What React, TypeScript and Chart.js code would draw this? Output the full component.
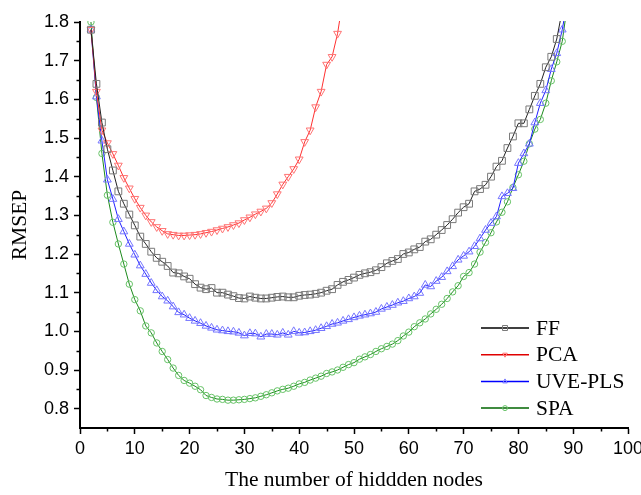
import React, { useEffect, useRef } from 'react';
import { Chart, registerables } from 'chart.js';

Chart.register(...registerables);

// x positions: number of hidden nodes
const nodes = [2, 3, 4, 5, 6, 7, 8, 9, 10, 11, 12, 13, 14, 15, 16, 17, 18, 19, 20, 21, 22, 23, 24, 25, 26, 27, 28, 29, 30, 31, 32, 33, 34, 35, 36, 37, 38, 39, 40, 41, 42, 43, 44, 45, 46, 47, 48, 49, 50, 51, 52, 53, 54, 55, 56, 57, 58, 59, 60, 61, 62, 63, 64, 65, 66, 67, 68, 69, 70, 71, 72, 73, 74, 75, 76, 77, 78, 79, 80, 81, 82, 83, 84, 85, 86, 87, 88, 89];

const ffValues = [1.78, 1.64, 1.54, 1.471, 1.416, 1.362, 1.33, 1.302, 1.274, 1.245, 1.226, 1.206, 1.19, 1.18, 1.169, 1.152, 1.15, 1.142, 1.136, 1.122, 1.113, 1.109, 1.112, 1.10, 1.10, 1.095, 1.091, 1.086, 1.085, 1.09, 1.087, 1.085, 1.085, 1.087, 1.089, 1.09, 1.088, 1.088, 1.092, 1.094, 1.095, 1.097, 1.10, 1.105, 1.109, 1.12, 1.128, 1.133, 1.139, 1.146, 1.15, 1.153, 1.158, 1.166, 1.176, 1.182, 1.187, 1.20, 1.204, 1.212, 1.218, 1.232, 1.238, 1.25, 1.262, 1.275, 1.29, 1.307, 1.321, 1.33, 1.362, 1.368, 1.379, 1.40, 1.426, 1.441, 1.474, 1.504, 1.538, 1.538, 1.574, 1.609, 1.64, 1.683, 1.71, 1.756, 1.83];

const pcaValues = [1.78, 1.62, 1.52, 1.487, 1.459, 1.429, 1.397, 1.37, 1.343, 1.32, 1.30, 1.283, 1.27, 1.26, 1.252, 1.25, 1.248, 1.248, 1.249, 1.25, 1.252, 1.255, 1.258, 1.262, 1.266, 1.27, 1.275, 1.28, 1.288, 1.295, 1.303, 1.31, 1.318, 1.332, 1.355, 1.38, 1.40, 1.42, 1.445, 1.49, 1.52, 1.58, 1.62, 1.69, 1.71, 1.77, 1.86];

const uveValues = [1.78, 1.607, 1.493, 1.392, 1.342, 1.29, 1.258, 1.226, 1.198, 1.17, 1.148, 1.125, 1.106, 1.09, 1.079, 1.064, 1.049, 1.043, 1.034, 1.027, 1.021, 1.014, 1.009, 1.004, 1.002, 1.0, 0.999, 0.996, 0.989, 0.995, 0.994, 0.986, 0.993, 0.993, 0.991, 0.996, 0.991, 1.0, 0.996, 0.997, 1.0, 1.003, 1.008, 1.013, 1.019, 1.022, 1.027, 1.031, 1.036, 1.04, 1.043, 1.046, 1.05, 1.058, 1.063, 1.068, 1.074, 1.078, 1.085, 1.09, 1.099, 1.12, 1.116, 1.13, 1.14, 1.155, 1.168, 1.185, 1.195, 1.206, 1.22, 1.24, 1.262, 1.28, 1.297, 1.349, 1.357, 1.37, 1.435, 1.46, 1.485, 1.54, 1.59, 1.623, 1.678, 1.719, 1.78, 1.86];

const spaValues = [1.80, 1.605, 1.46, 1.352, 1.282, 1.226, 1.174, 1.122, 1.082, 1.053, 1.014, 0.996, 0.97, 0.948, 0.927, 0.905, 0.886, 0.873, 0.866, 0.858, 0.849, 0.834, 0.829, 0.825, 0.824, 0.822, 0.822, 0.823, 0.824, 0.826, 0.828, 0.832, 0.836, 0.841, 0.846, 0.85, 0.853, 0.858, 0.864, 0.868, 0.874, 0.879, 0.884, 0.891, 0.895, 0.90, 0.907, 0.914, 0.919, 0.928, 0.934, 0.94, 0.948, 0.955, 0.961, 0.967, 0.976, 0.988, 0.998, 1.012, 1.022, 1.032, 1.045, 1.057, 1.07, 1.085, 1.102, 1.118, 1.142, 1.152, 1.174, 1.205, 1.23, 1.255, 1.283, 1.308, 1.335, 1.372, 1.405, 1.44, 1.485, 1.523, 1.548, 1.59, 1.648, 1.697, 1.75, 1.85];

const seriesNames = ['FF', 'PCA', 'UVE-PLS', 'SPA'];

const xTickValues = [0, 10, 20, 30, 40, 50, 60, 70, 80, 90, 100];
const yTickValues = [0.8, 0.9, 1.0, 1.1, 1.2, 1.3, 1.4, 1.5, 1.6, 1.7, 1.8];
const xMinorTickValues = [5, 15, 25, 35, 45, 55, 65, 75, 85, 95];
const yMinorTickValues = [0.85, 0.95, 1.05, 1.15, 1.25, 1.35, 1.45, 1.55, 1.65, 1.75];

const xTitle = 'The number of hiddden nodes';
const yTitle = 'RMSEP';

function toPoints(values: number[]) {
  return values.map((v, i) => ({ x: nodes[i], y: v }));
}

function drawMarker(ctx: CanvasRenderingContext2D, style: string, rotation: number, x: number, y: number, r: number) {
  ctx.beginPath();
  if (style === 'rect') {
    ctx.rect(x - r, y - r, 2 * r, 2 * r);
  } else if (style === 'triangle') {
    const dir = rotation === 180 ? -1 : 1;
    ctx.moveTo(x, y - dir * r);
    ctx.lineTo(x + r * 0.9, y + dir * r * 0.6);
    ctx.lineTo(x - r * 0.9, y + dir * r * 0.6);
    ctx.closePath();
  } else {
    ctx.arc(x, y, r, 0, Math.PI * 2);
  }
  ctx.stroke();
}

const decorPlugin = {
  id: 'decor',
  afterDraw(chart: any) {
    const ctx: CanvasRenderingContext2D = chart.ctx;
    const { left, bottom, right } = chart.chartArea;
    const xs = chart.scales.x;
    const ys = chart.scales.y;
    ctx.save();
    // minor ticks
    ctx.strokeStyle = '#000';
    ctx.lineWidth = 1.5;
    ctx.beginPath();
    yMinorTickValues.forEach((v) => {
      const py = Math.round(ys.getPixelForValue(v)) + 0.5;
      ctx.moveTo(left - 3.5, py);
      ctx.lineTo(left, py);
    });
    xMinorTickValues.forEach((v) => {
      const px = Math.round(xs.getPixelForValue(v)) + 0.5;
      ctx.moveTo(px, bottom);
      ctx.lineTo(px, bottom + 3.5);
    });
    ctx.stroke();

    // legend
    const rowH = 26.7;
    const top = bottom - 100;
    const x0 = right - 147;
    const x1 = right - 99;
    ctx.font = '21.5px "Liberation Serif", "Times New Roman", serif';
    ctx.textBaseline = 'middle';
    ctx.textAlign = 'left';
    chart.data.datasets.forEach((ds: any, i: number) => {
      const y = top + i * rowH;
      ctx.strokeStyle = ds.legendLineColor;
      ctx.lineWidth = 1.5;
      ctx.beginPath();
      ctx.moveTo(x0, y);
      ctx.lineTo(x1, y);
      ctx.stroke();
      ctx.strokeStyle = ds.pointBorderColor;
      ctx.lineWidth = 1;
      ctx.fillStyle = '#fff';
      const mx = (x0 + x1) / 2;
      ctx.beginPath();
      drawMarker(ctx, ds.pointStyle, ds.pointRotation || 0, mx, y, ds.pointStyle === 'circle' ? 2.5 : 2.5);
      ctx.fillStyle = '#000';
      ctx.fillText(ds.label, x1 + 7, y + 1);
    });
    ctx.restore();
  },
};

export default function App() {
  const canvasRef = useRef<HTMLCanvasElement | null>(null);

  useEffect(() => {
    if (!canvasRef.current) return;
    const clip = { left: 6, right: 6, top: 1, bottom: 6 };
    const chart = new Chart(canvasRef.current, {
      type: 'line',
      data: {
        datasets: [
          {
            label: seriesNames[0],
            data: toPoints(ffValues),
            borderColor: '#222222',
            legendLineColor: '#000000',
            borderWidth: 1,
            pointStyle: 'rect',
            pointRadius: 4.8,
            pointBorderWidth: 1,
            pointBorderColor: '#7a7a7a',
            pointBackgroundColor: 'rgba(255,255,255,0)',
            clip,
          } as any,
          {
            label: seriesNames[1],
            data: toPoints(pcaValues),
            borderColor: '#ff3030',
            legendLineColor: '#e00000',
            borderWidth: 1,
            pointStyle: 'triangle',
            pointRotation: 180,
            pointRadius: 4.5,
            pointBorderWidth: 1,
            pointBorderColor: '#ff7373',
            pointBackgroundColor: 'rgba(255,255,255,0)',
            clip,
          } as any,
          {
            label: seriesNames[2],
            data: toPoints(uveValues),
            borderColor: '#2020ff',
            legendLineColor: '#0000ff',
            borderWidth: 1,
            pointStyle: 'triangle',
            pointRadius: 4.5,
            pointBorderWidth: 1,
            pointBorderColor: '#7575ff',
            pointBackgroundColor: 'rgba(255,255,255,0)',
            clip,
          } as any,
          {
            label: seriesNames[3],
            data: toPoints(spaValues),
            borderColor: '#1c8a1c',
            legendLineColor: '#006400',
            borderWidth: 1,
            pointStyle: 'circle',
            pointRadius: 3.2,
            pointBorderWidth: 1,
            pointBorderColor: '#66c266',
            pointBackgroundColor: 'rgba(255,255,255,0)',
            clip,
          } as any,
        ],
      },
      options: {
        responsive: false,
        animation: false,
        devicePixelRatio: 1,
        layout: { padding: { top: 22, right: 13, left: 0, bottom: 0 } },
        plugins: {
          legend: { display: false },
          tooltip: { enabled: false },
        },
        scales: {
          x: {
            type: 'linear',
            min: 0,
            max: 100,
            afterBuildTicks: (scale: any) => {
              scale.ticks = xTickValues.map((v) => ({ value: v }));
            },
            afterFit: (scale: any) => {
              scale.height = 67;
              scale.paddingLeft = 0;
              scale.paddingRight = 0;
            },
            ticks: {
              color: '#000',
              padding: 4,
              maxRotation: 0,
              autoSkip: false,
              font: { family: '"Liberation Sans", Arial, sans-serif', size: 18 },
              callback: (v: any) => String(v),
            },
            grid: {
              display: true,
              drawOnChartArea: false,
              drawTicks: true,
              tickLength: 6,
              tickColor: '#000',
              tickWidth: 1.5,
            },
            border: { display: true, color: '#000', width: 2 },
            title: {
              display: true,
              text: xTitle,
              color: '#000',
              padding: { top: 0, bottom: 2 },
              font: { family: '"Liberation Serif", "Times New Roman", serif', size: 21.5, weight: 'normal' },
            },
          },
          y: {
            type: 'linear',
            min: 0.75,
            max: 1.8,
            afterBuildTicks: (scale: any) => {
              scale.ticks = yTickValues.map((v) => ({ value: v }));
            },
            afterFit: (scale: any) => {
              scale.width = 80;
              scale.paddingTop = 0;
              scale.paddingBottom = 0;
            },
            ticks: {
              color: '#000',
              padding: 5,
              autoSkip: false,
              font: { family: '"Liberation Sans", Arial, sans-serif', size: 18 },
              callback: (v: any) => Number(v).toFixed(1),
            },
            grid: {
              display: true,
              drawOnChartArea: false,
              drawTicks: true,
              tickLength: 6,
              tickColor: '#000',
              tickWidth: 1.5,
            },
            border: { display: true, color: '#000', width: 2 },
            title: {
              display: true,
              text: yTitle,
              color: '#000',
              padding: { top: 7, bottom: 0 },
              font: { family: '"Liberation Serif", "Times New Roman", serif', size: 21.5, weight: 'normal' },
            },
          },
        },
      } as any,
      plugins: [decorPlugin],
    });
    return () => chart.destroy();
  }, []);

  return (
    <div style={{ position: 'fixed', left: 0, top: 0, width: 641, height: 495, background: '#fff' }}>
      <canvas ref={canvasRef} width={641} height={495} style={{ display: 'block' }} />
    </div>
  );
}
